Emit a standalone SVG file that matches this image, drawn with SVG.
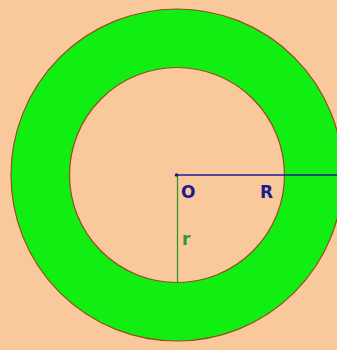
<svg xmlns="http://www.w3.org/2000/svg" width="337" height="350" viewBox="0 0 337 350">
<style>
.ring{stroke:#9a4a1c;stroke-width:1.2}
.lbl{font-family:"DejaVu Sans",Verdana,sans-serif;font-weight:bold;font-size:17px}
</style>
<rect width="337" height="350" fill="#f9c99b"/>
<g id="annulus">
<circle class="ring" cx="177" cy="175" r="166" fill="#11ee11"/>
<circle class="ring" cx="177" cy="175" r="107.5" fill="#f9c99b"/>
</g>
<g id="connectors">
<line x1="176" y1="175" x2="337" y2="175" stroke="#1c1c8c" stroke-width="1.3"/>
<line x1="177.5" y1="175" x2="177.5" y2="282" stroke="#2a9a2a" stroke-width="1.3"/>
</g>
<g id="center">
<circle cx="176.5" cy="175" r="1.8" fill="#1c1c8c"/>
<text class="lbl" x="181" y="198" fill="#1c1c8c">O</text>
</g>
<g id="labelR"><text class="lbl" x="260" y="198" fill="#1c1c8c">R</text></g>
<g id="labelr"><text class="lbl" x="182" y="245" fill="#2a9a2a" font-size="19">r</text></g>
</svg>
